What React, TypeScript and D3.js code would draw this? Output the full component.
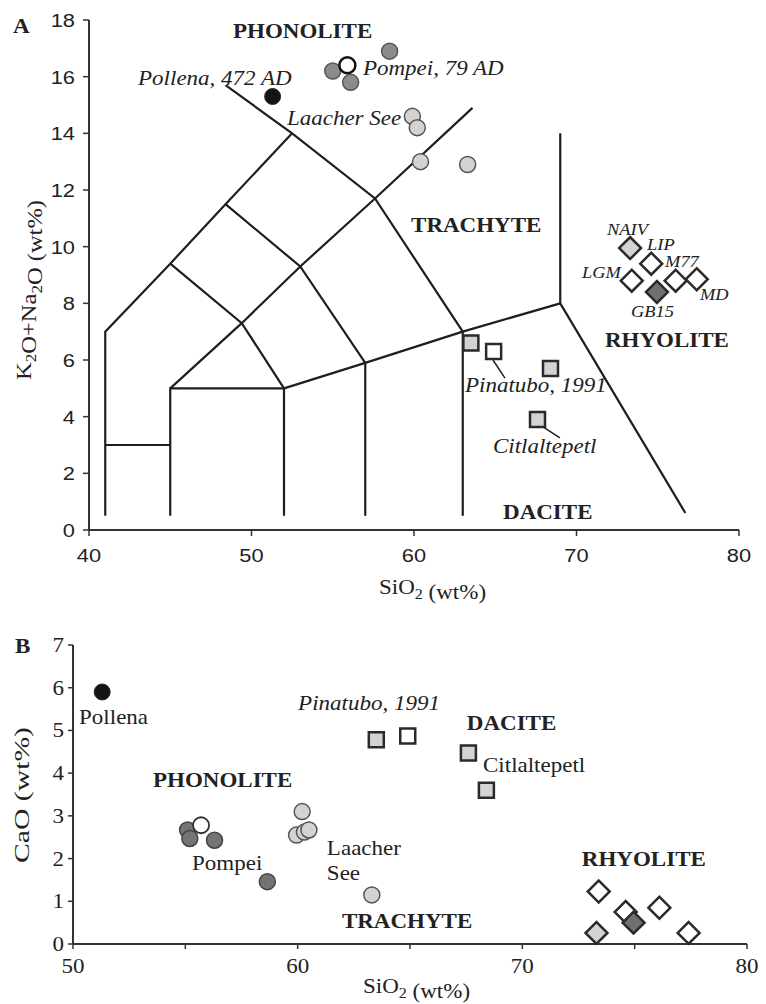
import React from 'react';
import * as d3 from 'd3';

const SERIF = '"Liberation Serif", "Times New Roman", serif';
const SANS = '"Liberation Sans", Arial, sans-serif';
const SX = 1.15; // the scanned figure is a little wider than tall

// TAS classification boundaries, [SiO2, Na2O+K2O]
const tasBoundaries: [number, number][][] = [
  [[41, 0.5], [41, 7], [45, 9.4], [48.4, 11.5], [52.5, 14]],
  [[48.4, 15.7], [52.5, 14], [57.6, 11.7], [63, 7]],
  [[41, 3], [45, 3]],
  [[45, 0.5], [45, 5], [52, 5], [52, 0.5]],
  [[45, 5], [49.4, 7.3], [53, 9.3], [57.6, 11.7], [63.6, 14.9]],
  [[45, 9.4], [49.4, 7.3], [52, 5]],
  [[48.4, 11.5], [53, 9.3], [57, 5.9]],
  [[52, 5], [57, 5.9], [63, 7], [69, 8]],
  [[57, 0.5], [57, 5.9]],
  [[63, 0.5], [63, 7]],
  [[69, 14], [69, 8], [76.7, 0.6]],
];

// Pollena 472 AD
const pollenaSiO2 = 51.3;
const pollenaAlk = 15.3;
const pollenaCaO = 5.9;

// Pompei 79 AD
const pompeiSiO2A = [55.0, 56.1, 58.5];
const pompeiAlkA = [16.2, 15.8, 16.9];
const pompeiSiO2B = [55.1, 55.2, 56.3, 58.65];
const pompeiCaOB = [2.67, 2.47, 2.43, 1.46];
const pompeiOpenA: [number, number] = [55.9, 16.4];
const pompeiOpenB: [number, number] = [55.7, 2.78];

// Laacher See
const laacherSiO2A = [59.9, 60.2, 60.4, 63.3];
const laacherAlkA = [14.6, 14.2, 13.0, 12.9];
const laacherSiO2B = [60.2, 59.95, 60.3, 60.5, 63.3];
const laacherCaOB = [3.1, 2.55, 2.62, 2.67, 1.15];

// Pinatubo 1991 / Citlaltepetl squares
const sqSiO2 = [63.5, 64.9, 68.4, 67.6];
const sqAlk = [6.6, 6.3, 5.7, 3.9];
const sqCaO = [4.78, 4.87, 3.6, 4.47];
const sqKind = ['light', 'open', 'light', 'light'];

// rhyolite samples
const rhyNames = ['LGM', 'NAIV', 'LIP', 'GB15', 'M77', 'MD'];
const rhySiO2 = [73.4, 73.3, 74.6, 74.95, 76.1, 77.4];
const rhyAlk = [8.8, 9.95, 9.4, 8.4, 8.8, 8.85];
const rhyCaO = [1.23, 0.26, 0.75, 0.5, 0.85, 0.26];
const rhyKind = ['open', 'light', 'open', 'dark', 'open', 'open'];
const rhyLabelA: [number, number][] = [[70.34, 8.89], [71.88, 10.41], [74.34, 9.88], [73.35, 7.52], [75.45, 9.28], [77.6, 8.12]];

const ticksA_x = [40, 50, 60, 70, 80];
const ticksA_y = [0, 2, 4, 6, 8, 10, 12, 14, 16, 18];
const ticksB_x = [50, 60, 70, 80];
const minorB_x = [55, 65, 75];
const ticksB_y = [0, 1, 2, 3, 4, 5, 6, 7];

const fills: Record<string, string> = {
  black: '#141414', grey: '#8c8c8c', greyB: '#747474', light: '#d3d3d3',
  open: '#ffffff', dark: '#707070',
};

const xA = d3.scaleLinear().domain([40, 80]).range([89, 739]);
const yA = d3.scaleLinear().domain([0, 18]).range([530, 20]);
const xB = d3.scaleLinear().domain([50, 80]).range([73, 747]);
const yB = d3.scaleLinear().domain([0, 7]).range([944, 645]);

const circ = d3.symbol().type(d3.symbolCircle).size(Math.PI * 64)();
const sq = d3.symbol().type(d3.symbolSquare).size(225)();
const dia = d3.symbol().type(d3.symbolSquare).size(240)();

function Txt({ x, y, size = 20, bold = false, italic = false, anchor = 'start', family = SERIF, rot = 0, len, children }: any) {
  const tf = rot ? `translate(${x},${y}) rotate(${rot})` : `translate(${x},${y}) scale(${SX},1)`;
  return (
    <text transform={tf} fontFamily={family} fontSize={size} fontWeight={bold ? 'bold' : 'normal'}
      fontStyle={italic ? 'italic' : 'normal'} textAnchor={anchor} fill="#222"
      textLength={len} lengthAdjust={len ? 'spacingAndGlyphs' : undefined}>
      {children}
    </text>
  );
}

function Sub({ t, size }: any) {
  return (<><tspan fontSize={size * 0.7} dy={size * 0.25}>{t}</tspan><tspan dy={-size * 0.25}></tspan></>);
}

function Mark({ d, x, y, fill, sw = 2, stroke = '#2a2a2a', rot = 0 }: any) {
  return <path d={d} transform={`translate(${x},${y}) rotate(${rot})`} fill={fill} stroke={stroke} strokeWidth={sw} />;
}

function PanelA() {
  const line = d3.line<[number, number]>().x(d => xA(d[0])).y(d => yA(d[1]));
  return (
    <g>
      {tasBoundaries.map((b, i) => (
        <path key={i} d={line(b) || ''} fill="none" stroke="#1e1e1e" strokeWidth={2.2} strokeLinejoin="miter" />
      ))}
      {/* axes */}
      <line x1={xA(40)} x2={xA(80)} y1={yA(0)} y2={yA(0)} stroke="#333" strokeWidth={2} />
      <line x1={xA(40)} x2={xA(40)} y1={yA(0)} y2={yA(18)} stroke="#333" strokeWidth={2} />
      {ticksA_y.map(t => (
        <g key={t}>
          <line x1={xA(40) - 6} x2={xA(40)} y1={yA(t)} y2={yA(t)} stroke="#333" strokeWidth={1.5} />
          <Txt x={xA(40) - 14} y={yA(t) + 7} size={19} family={SANS} anchor="end">{t}</Txt>
        </g>
      ))}
      {ticksA_x.map(t => (
        <g key={t}>
          <line x1={xA(t)} x2={xA(t)} y1={yA(0)} y2={yA(0) + 6} stroke="#333" strokeWidth={1.5} />
          <Txt x={xA(t)} y={yA(0) + 32} size={19} family={SANS} anchor="middle">{t}</Txt>
        </g>
      ))}
      <Txt x={13} y={33} size={20} bold>A</Txt>
      <Txt x={xA(60) - 35} y={594} size={20}>SiO<Sub t="2" size={20} /> (wt%)</Txt>
      <Txt x={31} y={290} size={21} rot={-90} anchor="middle" len={180}>
        K<Sub t="2" size={21} />O+Na<Sub t="2" size={21} />O (wt%)
      </Txt>

      {/* zone names */}
      <Txt x={xA(48.86)} y={yA(17.37)} bold>PHONOLITE</Txt>
      <Txt x={xA(59.82)} y={yA(10.52)} bold>TRACHYTE</Txt>
      <Txt x={xA(71.75)} y={yA(6.46)} bold>RHYOLITE</Txt>
      <Txt x={xA(65.48)} y={yA(0.39)} bold>DACITE</Txt>

      {/* locality labels */}
      <Txt x={xA(43.02)} y={yA(15.71)} italic>Pollena, 472 AD</Txt>
      <Txt x={xA(56.86)} y={yA(16.06)} italic>Pompei, 79 AD</Txt>
      <Txt x={xA(52.18)} y={yA(14.29)} italic>Laacher See</Txt>
      <Txt x={xA(63.14)} y={yA(4.87)} italic>Pinatubo, 1991</Txt>
      <Txt x={xA(64.86)} y={yA(2.72)} italic>Citlaltepetl</Txt>
      <line x1={xA(64.86)} y1={yA(6.0)} x2={xA(65.6)} y2={yA(5.36)} stroke="#222" strokeWidth={1.5} />
      <line x1={xA(67.94)} y1={yA(3.64)} x2={xA(68.98)} y2={yA(3.25)} stroke="#222" strokeWidth={1.5} />

      {/* circles */}
      <Mark d={circ} x={xA(pollenaSiO2)} y={yA(pollenaAlk)} fill={fills.black} sw={1} />
      {laacherSiO2A.map((s, i) => (
        <Mark key={i} d={circ} x={xA(s)} y={yA(laacherAlkA[i])} fill={fills.light} stroke="#555" sw={1.5} />
      ))}
      <Mark d={circ} x={xA(pompeiSiO2A[0])} y={yA(pompeiAlkA[0])} fill={fills.grey} stroke="#555" sw={1.5} />
      <Mark d={circ} x={xA(pompeiOpenA[0])} y={yA(pompeiOpenA[1])} fill={fills.open} stroke="#111" sw={2.5} />
      {pompeiSiO2A.slice(1).map((s, i) => (
        <Mark key={i} d={circ} x={xA(s)} y={yA(pompeiAlkA[i + 1])} fill={fills.grey} stroke="#555" sw={1.5} />
      ))}

      {/* squares */}
      {sqSiO2.map((s, i) => (
        <Mark key={i} d={sq} x={xA(s)} y={yA(sqAlk[i])} fill={sqKind[i] === 'open' ? fills.open : fills.light} sw={2.5} />
      ))}

      {/* rhyolites */}
      {rhySiO2.map((s, i) => (
        <Mark key={i} d={dia} x={xA(s)} y={yA(rhyAlk[i])} rot={45} fill={fills[rhyKind[i]]} sw={2.5} />
      ))}
      {rhyNames.map((n, i) => (
        <Txt key={n} x={xA(rhyLabelA[i][0])} y={yA(rhyLabelA[i][1])} size={16} italic>{n}</Txt>
      ))}
    </g>
  );
}

function PanelB() {
  return (
    <g>
      <line x1={xB(50)} x2={xB(80)} y1={yB(0)} y2={yB(0)} stroke="#333" strokeWidth={2} />
      <line x1={xB(50)} x2={xB(50)} y1={yB(0)} y2={yB(7)} stroke="#333" strokeWidth={2} />
      {ticksB_y.map(t => (
        <g key={t}>
          <line x1={xB(50) - 5} x2={xB(50)} y1={yB(t)} y2={yB(t)} stroke="#333" strokeWidth={1.5} />
          <Txt x={xB(50) - 9} y={yB(t) + 7} size={20} anchor="end">{t}</Txt>
        </g>
      ))}
      {ticksB_x.concat(minorB_x).map(t => (
        <line key={t} x1={xB(t)} x2={xB(t)} y1={yB(0)} y2={yB(0) + 5} stroke="#333" strokeWidth={1.5} />
      ))}
      {ticksB_x.map(t => (
        <Txt key={t} x={xB(t)} y={yB(0) + 29} size={20} anchor="middle">{t}</Txt>
      ))}
      <Txt x={15} y={653} size={20} bold>B</Txt>
      <Txt x={363} y={993} size={20}>SiO<Sub t="2" size={20} /> (wt%)</Txt>
      <Txt x={29} y={795} size={21} rot={-90} anchor="middle" len={136}>CaO (wt%)</Txt>

      <Txt x={xB(53.56)} y={yB(3.68)} bold>PHONOLITE</Txt>
      <Txt x={xB(61.97)} y={yB(0.37)} bold>TRACHYTE</Txt>
      <Txt x={xB(67.53)} y={yB(5.01)} bold>DACITE</Txt>
      <Txt x={xB(72.65)} y={yB(1.83)} bold>RHYOLITE</Txt>

      <Txt x={xB(50.27)} y={yB(5.15)}>Pollena</Txt>
      <Txt x={xB(55.3)} y={yB(1.73)}>Pompei</Txt>
      <Txt x={xB(61.3)} y={yB(2.08)}>Laacher</Txt>
      <Txt x={xB(61.3)} y={yB(1.5)}>See</Txt>
      <Txt x={xB(66.33)} y={yB(5.48)} italic anchor="end">Pinatubo, 1991</Txt>
      <Txt x={xB(68.25)} y={yB(4.03)}>Citlaltepetl</Txt>

      <Mark d={circ} x={xB(pollenaSiO2)} y={yB(pollenaCaO)} fill={fills.black} sw={1} />
      {pompeiSiO2B.map((s, i) => (
        <Mark key={i} d={circ} x={xB(s)} y={yB(pompeiCaOB[i])} fill={fills.greyB} stroke="#444" sw={1.5} />
      ))}
      <Mark d={circ} x={xB(pompeiOpenB[0])} y={yB(pompeiOpenB[1])} fill={fills.open} stroke="#333" sw={1.8} />
      {laacherSiO2B.map((s, i) => (
        <Mark key={i} d={circ} x={xB(s)} y={yB(laacherCaOB[i])} fill={fills.light} stroke="#555" sw={1.5} />
      ))}
      {sqSiO2.map((s, i) => (
        <Mark key={i} d={sq} x={xB(s)} y={yB(sqCaO[i])} fill={sqKind[i] === 'open' ? fills.open : fills.light} sw={2.5} />
      ))}
      {rhySiO2.map((s, i) => (
        <Mark key={i} d={dia} x={xB(s)} y={yB(rhyCaO[i])} rot={45} fill={fills[rhyKind[i]]} sw={2.5} />
      ))}
    </g>
  );
}

export default function App() {
  return (
    <svg width={766} height={1004} style={{ position: 'absolute', left: 0, top: 0, background: '#fff' }}>
      <PanelA />
      <PanelB />
    </svg>
  );
}
